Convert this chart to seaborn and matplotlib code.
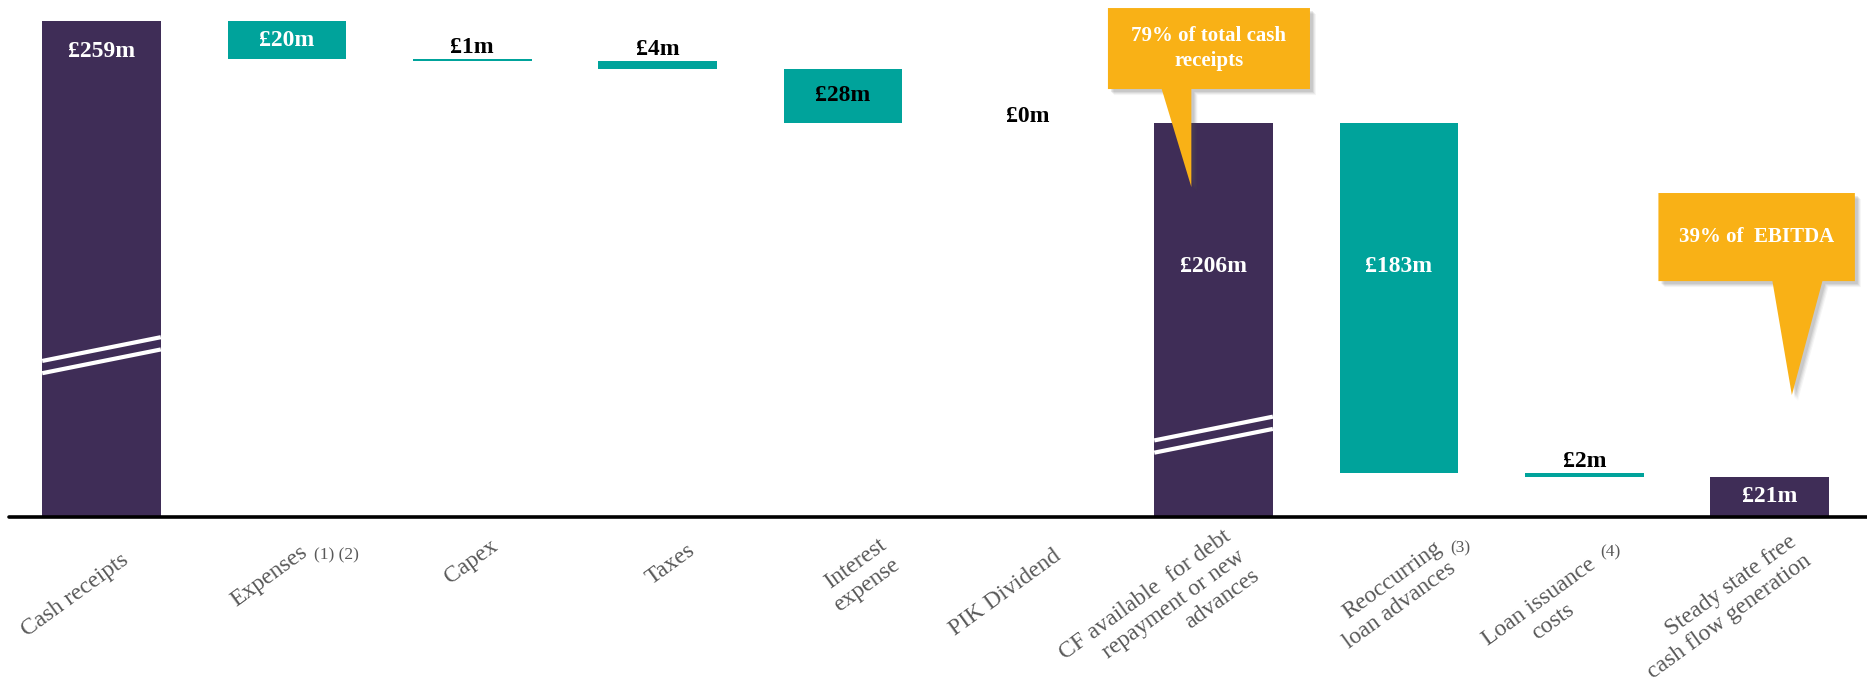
import numpy as np
import pandas as pd
import matplotlib
matplotlib.use("Agg")
import matplotlib.pyplot as plt
import matplotlib.transforms as mtransforms
from matplotlib.patches import Polygon
import seaborn as sns

# ------------------------------
# Data
# ------------------------------
categories = [
    "Cash receipts",
    "Expenses",
    "Capex",
    "Taxes",
    "Interest\nexpense",
    "PIK Dividend",
    "CF available  for debt\nrepayment or new\nadvances",
    "Reoccurring\nloan advances",
    "Loan issuance\ncosts",
    "Steady state free\ncash flow generation",
]
amounts = [259, -20, -1, -4, -28, 0, 206, -183, -2, 21]
is_total = [True, False, False, False, False, False, True, False, False, True]
value_labels = ["£259m", "£20m", "£1m", "£4m", "£28m", "£0m", "£206m", "£183m", "£2m", "£21m"]
footnotes = ["", "(1) (2)", "", "", "", "", "", "(3)", "(4)", ""]
callout_texts = ["79% of total cash\nreceipts", "39% of  EBITDA"]

# ------------------------------
# Styles
# ------------------------------
PURPLE = "#3F2D57"
TEAL = "#00A39B"
ORANGE = "#F9B116"
GREY = "#595959"

# label placement: ("inside", drop from top) / ("center", None) / ("above", None)
label_mode = [("inside", 16), ("center", None), ("above", None), ("above", None),
              ("center", None), ("above", None), ("inside", 75), ("inside", 75),
              ("above", None), ("center", None)]
label_color = ["white", "white", "black", "black", "black", "black",
               "white", "white", "black", "white"]
# category label anchor (right-middle end), pixels from (x, 0); line alignment
cat_offset = [(25, -41), (19, -33), (23, -27), (35, -31), (48, -36),
              (30, -37), (29, -37), (48, -39), (16, -55), (32, -32)]
cat_align = ["right", "right", "right", "right", "right",
             "right", "right", "right", "center", "right"]
footnote_offset = {1: (27, -38), 7: (51, -31), 8: (16, -35)}  # pixels from (x, 0)
break_marks = {0: 84.5, 6: 43.0}  # centre height of the axis-break lines

# callout outlines (box + pointer) in data units
callout_shapes = [
    [(5.43, 265.8), (6.52, 265.8), (6.52, 223.5), (5.88, 223.5), (5.88, 172.3),
     (5.72, 223.5), (5.43, 223.5)],
    [(8.40, 169.2), (9.46, 169.2), (9.46, 123.2), (9.285, 123.2), (9.12, 63.7),
     (9.015, 123.2), (8.40, 123.2)],
]
callout_centres = [(5.975, 244.6), (8.93, 146.2)]

# ------------------------------
# Waterfall levels
# ------------------------------
bottoms, heights = [], []
running = 0
for amt, tot in zip(amounts, is_total):
    if tot:
        bottoms.append(0)
        heights.append(amt)
        running = amt
    else:
        new = running + amt
        bottoms.append(min(running, new))
        heights.append(abs(amt))
        running = new
tops = [b + h for b, h in zip(bottoms, heights)]

df = pd.DataFrame({"step": categories, "height": heights, "bottom": bottoms})

sns.set_style("white")
plt.rcParams["font.family"] = ["Liberation Serif", "DejaVu Serif"]

fig = plt.figure(figsize=(18.67, 6.87), dpi=100)
ax = fig.add_axes([0.00474, 0.24745, 0.99274, 0.75255])

sns.barplot(data=df, x="step", y="height", bottom=df["bottom"].values, color=TEAL,
            width=0.64, saturation=1, linewidth=0, ax=ax)
for patch, tot in zip(ax.patches, is_total):
    patch.set_facecolor(PURPLE if tot else TEAL)

ax.set_xlim(-0.5, 9.5)
ax.set_ylim(0, 270)
ax.axhline(0, xmin=0, xmax=1.004, color="black", lw=2.6, zorder=5, clip_on=False)
for s in ax.spines.values():
    s.set_visible(False)
ax.set_xticks([])
ax.set_yticks([])
ax.set_xlabel("")
ax.set_ylabel("")

# axis-break marks
half = 0.32
for i, yc in break_marks.items():
    for gap in (-3.2, 3.2):
        ax.plot([i - half, i + half], [yc + gap - 6.2, yc + gap + 6.2],
                color="white", lw=3, solid_capstyle="butt", zorder=4)

# value labels
for i, (lab, (mode, drop)) in enumerate(zip(value_labels, label_mode)):
    kw = dict(color=label_color[i], fontsize=17, fontweight="bold", ha="center", zorder=6)
    if mode == "inside":
        ax.text(i, tops[i] - drop, lab, va="center", **kw)
    elif mode == "center":
        ax.text(i, bottoms[i] + heights[i] / 2, lab, va="center", **kw)
    else:
        lift = -3 if heights[i] == 0 else 1
        ax.annotate(lab, xy=(i, tops[i]), xytext=(0, lift), textcoords="offset points",
                    va="bottom", **kw)

# category labels
for i, cat in enumerate(categories):
    dx, dy = cat_offset[i]
    ax.annotate(cat, xy=(i, 0), xytext=(dx * 0.72, dy * 0.72), textcoords="offset points",
                rotation=36, rotation_mode="anchor", ha="right", va="center",
                multialignment=cat_align[i], fontsize=17, color=GREY,
                annotation_clip=False)
    if footnotes[i]:
        fx, fy = footnote_offset[i]
        ax.annotate(footnotes[i], xy=(i, 0), xytext=(fx * 0.72, fy * 0.72),
                    textcoords="offset points", ha="left", va="center",
                    fontsize=12.5, color=GREY, annotation_clip=False)

# callouts with a soft shadow
for shape, centre, txt in zip(callout_shapes, callout_centres, callout_texts):
    for k, alpha in ((6, 0.06), (5, 0.08), (4, 0.1), (3, 0.12)):
        off = mtransforms.ScaledTranslation(k / 100, -k / 100, fig.dpi_scale_trans)
        ax.add_patch(Polygon(shape, closed=True, facecolor="#555555", edgecolor="none",
                             alpha=alpha, transform=ax.transData + off, zorder=7,
                             clip_on=False))
    ax.add_patch(Polygon(shape, closed=True, facecolor=ORANGE, edgecolor="none",
                         zorder=8, clip_on=False))
    ax.text(centre[0], centre[1], txt, color="white", fontsize=15, fontweight="bold",
            ha="center", va="center", linespacing=1.35, zorder=9)

fig.savefig("out.png", dpi=100)
plt.close(fig)
